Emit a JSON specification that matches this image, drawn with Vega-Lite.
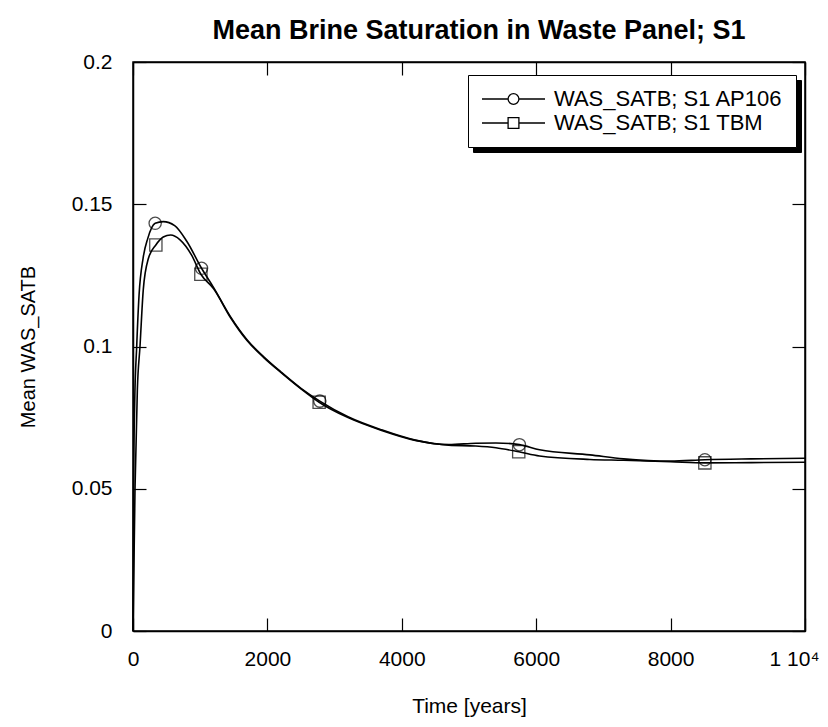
{
  "$schema": "https://vega.github.io/schema/vega-lite/v6.json",
  "width": 672,
  "height": 569,
  "autosize": "none",
  "padding": {"left": 133, "top": 62, "right": 23, "bottom": 96},
  "background": "white",
  "title": {"text": "Mean Brine Saturation in Waste Panel; S1", "fontSize": 27, "font": "Liberation Sans", "fontWeight": "bold", "color": "black", "offset": 6, "dx": 10, "anchor": "middle"},
  "config": {
    "view": {"stroke": "black", "strokeWidth": 1.5},
    "font": "Liberation Sans",
    "axis": {"domainColor": "black", "domainWidth": 1.5, "tickColor": "black", "tickWidth": 1.2, "tickSize": -13, "labelColor": "black", "titleColor": "black", "labelFont": "Liberation Sans", "titleFont": "Liberation Sans", "labelFontSize": 21, "titleFontSize": 20, "titleFontWeight": "normal", "grid": false, "labelFlush": false}
  },
  "datasets": {
    "curves": [
      {"series": "WAS_SATB; S1 AP106", "t": 0, "v": 0},
      {"series": "WAS_SATB; S1 AP106", "t": 8, "v": 0.05},
      {"series": "WAS_SATB; S1 AP106", "t": 25, "v": 0.08},
      {"series": "WAS_SATB; S1 AP106", "t": 55, "v": 0.1},
      {"series": "WAS_SATB; S1 AP106", "t": 90, "v": 0.118},
      {"series": "WAS_SATB; S1 AP106", "t": 150, "v": 0.131},
      {"series": "WAS_SATB; S1 AP106", "t": 220, "v": 0.138},
      {"series": "WAS_SATB; S1 AP106", "t": 330, "v": 0.1433},
      {"series": "WAS_SATB; S1 AP106", "t": 450, "v": 0.1439},
      {"series": "WAS_SATB; S1 AP106", "t": 620, "v": 0.1425},
      {"series": "WAS_SATB; S1 AP106", "t": 800, "v": 0.137},
      {"series": "WAS_SATB; S1 AP106", "t": 1020, "v": 0.1275},
      {"series": "WAS_SATB; S1 AP106", "t": 1200, "v": 0.1207},
      {"series": "WAS_SATB; S1 AP106", "t": 1450, "v": 0.1105},
      {"series": "WAS_SATB; S1 AP106", "t": 1700, "v": 0.1023},
      {"series": "WAS_SATB; S1 AP106", "t": 1950, "v": 0.0963},
      {"series": "WAS_SATB; S1 AP106", "t": 2200, "v": 0.0911},
      {"series": "WAS_SATB; S1 AP106", "t": 2500, "v": 0.0853},
      {"series": "WAS_SATB; S1 AP106", "t": 2780, "v": 0.0808},
      {"series": "WAS_SATB; S1 AP106", "t": 3200, "v": 0.0753},
      {"series": "WAS_SATB; S1 AP106", "t": 3700, "v": 0.0707},
      {"series": "WAS_SATB; S1 AP106", "t": 4200, "v": 0.0671},
      {"series": "WAS_SATB; S1 AP106", "t": 4700, "v": 0.0655},
      {"series": "WAS_SATB; S1 AP106", "t": 5100, "v": 0.066},
      {"series": "WAS_SATB; S1 AP106", "t": 5400, "v": 0.0661},
      {"series": "WAS_SATB; S1 AP106", "t": 5750, "v": 0.0655},
      {"series": "WAS_SATB; S1 AP106", "t": 6050, "v": 0.0637},
      {"series": "WAS_SATB; S1 AP106", "t": 6800, "v": 0.0619},
      {"series": "WAS_SATB; S1 AP106", "t": 7300, "v": 0.0605},
      {"series": "WAS_SATB; S1 AP106", "t": 8000, "v": 0.0597},
      {"series": "WAS_SATB; S1 AP106", "t": 8510, "v": 0.0602},
      {"series": "WAS_SATB; S1 AP106", "t": 9200, "v": 0.0605},
      {"series": "WAS_SATB; S1 AP106", "t": 10000, "v": 0.0607},
      {"series": "WAS_SATB; S1 TBM", "t": 0, "v": 0},
      {"series": "WAS_SATB; S1 TBM", "t": 30, "v": 0.05},
      {"series": "WAS_SATB; S1 TBM", "t": 65, "v": 0.085},
      {"series": "WAS_SATB; S1 TBM", "t": 104, "v": 0.1},
      {"series": "WAS_SATB; S1 TBM", "t": 153, "v": 0.12},
      {"series": "WAS_SATB; S1 TBM", "t": 230, "v": 0.131},
      {"series": "WAS_SATB; S1 TBM", "t": 340, "v": 0.1357},
      {"series": "WAS_SATB; S1 TBM", "t": 450, "v": 0.1385},
      {"series": "WAS_SATB; S1 TBM", "t": 560, "v": 0.1392},
      {"series": "WAS_SATB; S1 TBM", "t": 700, "v": 0.1375},
      {"series": "WAS_SATB; S1 TBM", "t": 870, "v": 0.1322},
      {"series": "WAS_SATB; S1 TBM", "t": 1010, "v": 0.1254},
      {"series": "WAS_SATB; S1 TBM", "t": 1200, "v": 0.1203},
      {"series": "WAS_SATB; S1 TBM", "t": 1450, "v": 0.1102},
      {"series": "WAS_SATB; S1 TBM", "t": 1700, "v": 0.102},
      {"series": "WAS_SATB; S1 TBM", "t": 1950, "v": 0.096},
      {"series": "WAS_SATB; S1 TBM", "t": 2200, "v": 0.0909},
      {"series": "WAS_SATB; S1 TBM", "t": 2500, "v": 0.0851},
      {"series": "WAS_SATB; S1 TBM", "t": 2770, "v": 0.0804},
      {"series": "WAS_SATB; S1 TBM", "t": 3200, "v": 0.075},
      {"series": "WAS_SATB; S1 TBM", "t": 3700, "v": 0.0705},
      {"series": "WAS_SATB; S1 TBM", "t": 4200, "v": 0.067},
      {"series": "WAS_SATB; S1 TBM", "t": 4700, "v": 0.0653},
      {"series": "WAS_SATB; S1 TBM", "t": 5100, "v": 0.065},
      {"series": "WAS_SATB; S1 TBM", "t": 5400, "v": 0.0644},
      {"series": "WAS_SATB; S1 TBM", "t": 5740, "v": 0.063},
      {"series": "WAS_SATB; S1 TBM", "t": 6050, "v": 0.0615},
      {"series": "WAS_SATB; S1 TBM", "t": 6800, "v": 0.0603},
      {"series": "WAS_SATB; S1 TBM", "t": 7300, "v": 0.06},
      {"series": "WAS_SATB; S1 TBM", "t": 8000, "v": 0.0595},
      {"series": "WAS_SATB; S1 TBM", "t": 8510, "v": 0.0591},
      {"series": "WAS_SATB; S1 TBM", "t": 9200, "v": 0.0592},
      {"series": "WAS_SATB; S1 TBM", "t": 10000, "v": 0.0593}
    ],
    "markers": [
      {"series": "WAS_SATB; S1 AP106", "t": 330, "v": 0.1433},
      {"series": "WAS_SATB; S1 AP106", "t": 1020, "v": 0.1275},
      {"series": "WAS_SATB; S1 AP106", "t": 2780, "v": 0.0808},
      {"series": "WAS_SATB; S1 AP106", "t": 5750, "v": 0.0655},
      {"series": "WAS_SATB; S1 AP106", "t": 8510, "v": 0.0602},
      {"series": "WAS_SATB; S1 TBM", "t": 340, "v": 0.1357},
      {"series": "WAS_SATB; S1 TBM", "t": 1010, "v": 0.1254},
      {"series": "WAS_SATB; S1 TBM", "t": 2770, "v": 0.0804},
      {"series": "WAS_SATB; S1 TBM", "t": 5740, "v": 0.063},
      {"series": "WAS_SATB; S1 TBM", "t": 8510, "v": 0.0591}
    ]
  },
  "layer": [
    {
      "data": {"name": "curves"},
      "mark": {"type": "line", "interpolate": "monotone", "color": "black", "strokeWidth": 1.6},
      "encoding": {
        "x": {"field": "t", "type": "quantitative", "scale": {"domain": [0, 10000], "nice": false}, "axis": {"orient": "bottom", "values": [0, 2000, 4000, 6000, 8000, 10000], "format": "d", "labelExpr": "datum.value == 10000 ? '1 10⁴' : datum.label", "labelOffset": {"condition": {"test": "datum.value == 10000", "value": -11}, "value": 0}, "labelPadding": 30, "title": "Time [years]", "titleFontSize": 21, "titlePadding": 26}},
        "y": {"field": "v", "type": "quantitative", "scale": {"domain": [0, 0.2], "nice": false}, "axis": {"orient": "left", "values": [0, 0.05, 0.1, 0.15, 0.2], "format": "~g", "labelPadding": 34, "title": "Mean WAS_SATB", "titlePadding": 33}},
        "detail": {"field": "series", "type": "nominal"}
      }
    },
    {
      "data": {"name": "markers"},
      "mark": {"type": "point", "filled": false, "color": "black", "size": 150, "strokeWidth": 1.3},
      "encoding": {
        "x": {"field": "t", "type": "quantitative", "axis": null},
        "y": {"field": "v", "type": "quantitative", "axis": null},
        "shape": {"field": "series", "type": "nominal", "scale": {"domain": ["WAS_SATB; S1 AP106", "WAS_SATB; S1 TBM"], "range": ["circle", "square"]}, "legend": null}
      }
    },
    {
      "data": {"name": "markers"},
      "transform": [{"filter": "datum.t < 0"}],
      "mark": {"type": "point", "filled": false, "color": "black", "size": 144, "strokeWidth": 1.3},
      "encoding": {
        "x": {"field": "t", "type": "quantitative", "axis": {"orient": "top", "values": [0, 2000, 4000, 6000, 8000, 10000], "labels": false, "title": null}},
        "y": {"field": "v", "type": "quantitative", "axis": {"orient": "right", "values": [0, 0.05, 0.1, 0.15, 0.2], "labels": false, "title": null}},
        "shape": {"field": "series", "type": "nominal", "scale": {"domain": ["WAS_SATB; S1 AP106", "WAS_SATB; S1 TBM"], "range": ["M-1,0H3.35M5.15,0H9.5M3.35,0A0.9,0.9,0,1,1,5.15,0A0.9,0.9,0,1,1,3.35,0Z", "M-1,0H3.35M5.15,0H9.5M3.35,-0.9H5.15V0.9H3.35Z"]}, "legend": {"orient": "none", "legendX": 340, "legendY": 18, "title": null, "zindex": 0, "fillColor": "black", "strokeColor": "black", "padding": 13, "labelFontSize": 22, "labelFont": "Liberation Sans", "labelColor": "black", "labelLimit": 0, "labelExpr": "''", "labelOffset": 285, "symbolOffset": -5, "symbolSize": 144, "symbolStrokeColor": "black", "symbolFillColor": "black", "symbolOpacity": 1, "rowPadding": 2}}
      }
    },
    {
      "data": {"name": "markers"},
      "transform": [{"filter": "datum.t < 0"}],
      "mark": {"type": "point", "filled": false, "color": "black", "size": 144, "strokeWidth": 1.3},
      "encoding": {
        "x": {"field": "t", "type": "quantitative", "axis": null},
        "y": {"field": "v", "type": "quantitative", "axis": null},
        "shape": {"field": "series", "type": "nominal", "scale": {"domain": ["WAS_SATB; S1 AP106", "WAS_SATB; S1 TBM"], "range": ["M-1,0H3.35M5.15,0H9.5M3.35,0A0.9,0.9,0,1,1,5.15,0A0.9,0.9,0,1,1,3.35,0Z", "M-1,0H3.35M5.15,0H9.5M3.35,-0.9H5.15V0.9H3.35Z"]}, "legend": {"orient": "none", "legendX": 335, "legendY": 13, "title": null, "zindex": 1, "fillColor": "white", "strokeColor": "black", "padding": 13, "labelFontSize": 22, "labelFont": "Liberation Sans", "labelColor": "black", "labelLimit": 0, "labelOffset": 55, "symbolOffset": -4, "symbolSize": 144, "symbolStrokeColor": "black", "symbolFillColor": "white", "symbolStrokeWidth": 1.3, "symbolOpacity": 1, "rowPadding": 2}}
      }
    }
  ],
  "resolve": {"scale": {"shape": "independent"}, "axis": {"x": "independent", "y": "independent"}}
}
